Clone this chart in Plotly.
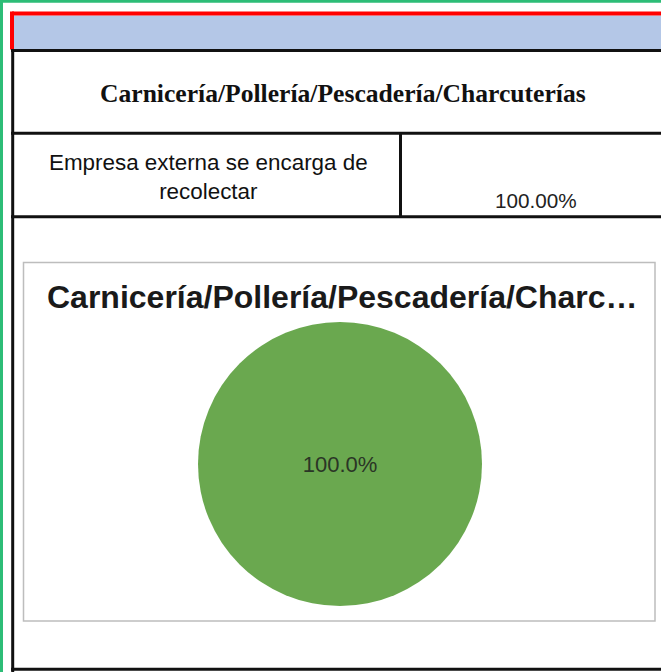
import plotly.graph_objects as go

# ---- data ----
section_title = "Carnicería/Pollería/Pescadería/Charcuterías"
chart_title = "Carnicería/Pollería/Pescadería/Charc…"
categories = ["Empresa externa se encarga de recolectar"]
category_label_lines = ["Empresa externa se encarga de", "recolectar"]
values = [100.0]
table_value_text = ["100.00%"]

W, H = 661, 672

fig = go.Figure()

# pie (domain in paper coords, built from pixel geometry)
cx, cy, r = 340, 464, 142
fig.add_trace(go.Pie(
    labels=categories,
    values=values,
    sort=False,
    showlegend=False,
    hoverinfo="none",
    marker=dict(colors=["#6aa84f"], line=dict(width=0)),
    textinfo="percent",
    texttemplate="%{percent:.1%}",
    textposition="inside",
    insidetextfont=dict(family="Liberation Sans, Arial", size=22, color="#2a3526"),
    domain=dict(x=[(cx - r) / W, (cx + r) / W], y=[1 - (cy + r) / H, 1 - (cy - r) / H]),
))

shapes = []
def line(x0, y0, x1, y1, color, width):
    shapes.append(dict(type="line", xref="x", yref="y", x0=x0, y0=y0, x1=x1, y1=y1,
                       line=dict(color=color, width=width), layer="below"))
def rect(x0, y0, x1, y1, fill=None, color=None, width=0):
    shapes.append(dict(type="rect", xref="x", yref="y", x0=x0, y0=y0, x1=x1, y1=y1,
                       fillcolor=fill if fill else "rgba(0,0,0,0)",
                       line=dict(color=color if color else "rgba(0,0,0,0)", width=width),
                       layer="below"))

# outer green frame
rect(1.5, 1.3, 900, 900, color="#2dbd77", width=3)
# blue header band + red border
rect(14, 15.5, 900, 49.5, fill="#b4c7e7")
line(12, 13.5, 900, 13.5, "#ff0000", 4)
line(12, 11.5, 12, 49.5, "#ff0000", 4)
# black grid
line(12.7, 49, 12.7, 700, "#111111", 3)
line(11, 50.5, 900, 50.5, "#111111", 3)
line(11, 133.3, 900, 133.3, "#111111", 3)
line(11, 216.7, 900, 216.7, "#111111", 3)
line(11, 669.3, 900, 669.3, "#111111", 3)
line(400.5, 133, 400.5, 217, "#111111", 3)
# chart box
rect(23.5, 262.5, 655, 621, fill="white", color="#bdbdbd", width=1.5)

annotations = [
    dict(x=342.5, y=93, xref="x", yref="y", text="<b>" + section_title + "</b>", showarrow=False,
         xanchor="center", yanchor="middle",
         font=dict(family="Liberation Serif, Times New Roman", size=25.6, color="#111111")),
    dict(x=208, y=177, xref="x", yref="y", text="<br>".join(category_label_lines), showarrow=False,
         xanchor="center", yanchor="middle", align="center",
         font=dict(family="Liberation Sans, Arial", size=22.4, color="#111111")),
    dict(x=536, y=200, xref="x", yref="y", text=table_value_text[0], showarrow=False,
         xanchor="center", yanchor="middle",
         font=dict(family="Liberation Sans, Arial", size=20.7, color="#222222")),
    dict(x=45, y=297, xref="x", yref="y", text="<b>" + chart_title + "</b>", showarrow=False,
         xanchor="left", yanchor="middle",
         font=dict(family="Liberation Sans, Arial", size=32, color="#1a1a1a")),
]

fig.update_layout(
    width=W, height=H,
    margin=dict(l=0, r=0, t=0, b=0, pad=0),
    paper_bgcolor="white", plot_bgcolor="white",
    xaxis=dict(range=[0, W], visible=False, fixedrange=True),
    yaxis=dict(range=[H, 0], visible=False, fixedrange=True),
    shapes=shapes,
    annotations=annotations,
)

fig.write_html("out.html", config={"displayModeBar": False},
               post_script="document.body.style.margin='0';document.body.style.overflow='hidden';")
